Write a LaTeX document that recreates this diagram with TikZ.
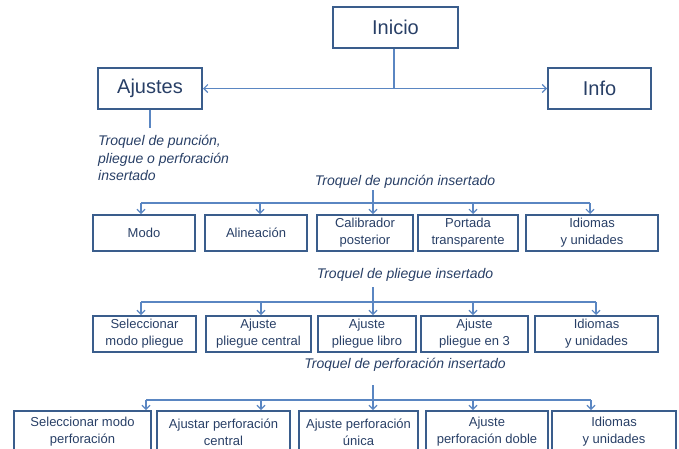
\documentclass[tikz,border=0pt]{standalone}
\usepackage{fontspec}
\setmainfont{Liberation Sans}
\usetikzlibrary{arrows.meta}
\definecolor{boxc}{HTML}{3A5D8C}
\definecolor{txtc}{HTML}{283F66}
\definecolor{linec}{HTML}{5A86C2}
\begin{document}
\begin{tikzpicture}[x=1pt,y=-1pt,
  box/.style={draw=boxc, line width=2pt, text=txtc, font=\fontsize{13}{17}\selectfont, align=center, inner sep=0pt, minimum height=36pt},
  bigbox/.style={box, font=\fontsize{20}{24}\selectfont, minimum height=41pt},
  lbl/.style={text=txtc, font=\fontsize{14}{17.5}\selectfont\itshape, inner sep=0pt},
  conn/.style={draw=linec, line width=1.1pt},
  arr/.style={conn, -{Straight Barb[length=4pt,width=8pt]}},
  darr/.style={conn, {Straight Barb[length=4pt,width=8pt]}-{Straight Barb[length=4pt,width=8pt]}}]
\useasboundingbox (0,0) rectangle (679,448);
\clip (0,0) rectangle (679,448);
% top level
\node[bigbox, minimum width=125pt] (inicio) at (395.5,27.5) {Inicio};
\node[bigbox, minimum width=104pt] (ajustes) at (150,88.5) {Ajustes};
\node[bigbox, minimum width=103pt] (info) at (599.5,88.5) {Info};
\draw[darr] (ajustes.east) -- (info.west);
\draw[conn] (inicio.south -| 394,0) -- (394,88.5);
% ajustes label
\coordinate (aj1) at (150,128);
\draw[conn] (ajustes.south) -- (aj1);
\node[lbl, anchor=west, align=left] (lab0) at (98,158) {Troquel de punción,\\pliegue o perforación\\insertado};
% row 1
\node[lbl] (lab1) at (405,182) {Troquel de punción insertado};
\node[box, minimum width=102pt] (r1a) at (144,233) {Modo};
\node[box, minimum width=102pt] (r1b) at (256,233) {Alineación};
\node[box, minimum width=96pt] (r1c) at (365,233) {Calibrador\\posterior};
\node[box, minimum width=100pt] (r1d) at (468,233) {Portada\\transparente};
\node[box, minimum width=132pt] (r1e) at (592,233) {Idiomas\\y unidades};
\coordinate (t1) at (373,190);
\coordinate (b1a) at (141,203);
\coordinate (b1b) at (260,203);
\coordinate (b1c) at (373,203);
\coordinate (b1d) at (473,203);
\coordinate (b1e) at (590,203);
\draw[conn] (t1) -- (b1c);
\draw[conn] (b1a) -- (b1e);
\draw[arr] (b1a) -- (r1a.north -| b1a);
\draw[arr] (b1b) -- (r1b.north -| b1b);
\draw[arr] (b1c) -- (r1c.north -| b1c);
\draw[arr] (b1d) -- (r1d.north -| b1d);
\draw[arr] (b1e) -- (r1e.north -| b1e);
% row 2
\node[lbl] (lab2) at (405,275) {Troquel de pliegue insertado};
\node[box, minimum width=103pt] (r2a) at (144.5,334) {Seleccionar\\modo pliegue};
\node[box, minimum width=105pt] (r2b) at (258.5,334) {Ajuste\\pliegue central};
\node[box, minimum width=98pt] (r2c) at (367,334) {Ajuste\\pliegue libro};
\node[box, minimum width=107pt] (r2d) at (474.5,334) {Ajuste\\pliegue en 3};
\node[box, minimum width=123pt] (r2e) at (596.5,334) {Idiomas\\y unidades};
\coordinate (t2) at (373,287);
\coordinate (b2a) at (141,302);
\coordinate (b2b) at (261,302);
\coordinate (b2c) at (373,302);
\coordinate (b2d) at (473,302);
\coordinate (b2e) at (596,302);
\draw[conn] (t2) -- (b2c);
\draw[conn] (b2a) -- (b2e);
\draw[arr] (b2a) -- (r2a.north -| b2a);
\draw[arr] (b2b) -- (r2b.north -| b2b);
\draw[arr] (b2c) -- (r2c.north -| b2c);
\draw[arr] (b2d) -- (r2d.north -| b2d);
\draw[arr] (b2e) -- (r2e.north -| b2e);
% row 3
\node[lbl] (lab3) at (405,365) {Troquel de perforación insertado};
\node[box, minimum width=137pt, minimum height=42pt] (r3a) at (82.5,432) {Seleccionar modo\\perforación};
\node[box, minimum width=133pt, minimum height=42pt] (r3b) at (223.5,432) {Ajustar perforación\\central};
\node[box, minimum width=119pt, minimum height=42pt] (r3c) at (358.5,432) {Ajuste perforación\\única};
\node[box, minimum width=122pt, minimum height=42pt] (r3d) at (487,432) {Ajuste\\perforación doble};
\node[box, minimum width=124pt, minimum height=42pt] (r3e) at (614,432) {Idiomas\\y unidades};
\coordinate (t3) at (373,385);
\coordinate (b3a) at (146,400);
\coordinate (b3b) at (261,400);
\coordinate (b3c) at (373,400);
\coordinate (b3d) at (473,400);
\coordinate (b3e) at (591,400);
\draw[conn] (t3) -- (b3c);
\draw[conn] (b3a) -- (b3e);
\draw[arr] (b3a) -- (r3a.north -| b3a);
\draw[arr] (b3b) -- (r3b.north -| b3b);
\draw[arr] (b3c) -- (r3c.north -| b3c);
\draw[arr] (b3d) -- (r3d.north -| b3d);
\draw[arr] (b3e) -- (r3e.north -| b3e);
\end{tikzpicture}
\end{document}
